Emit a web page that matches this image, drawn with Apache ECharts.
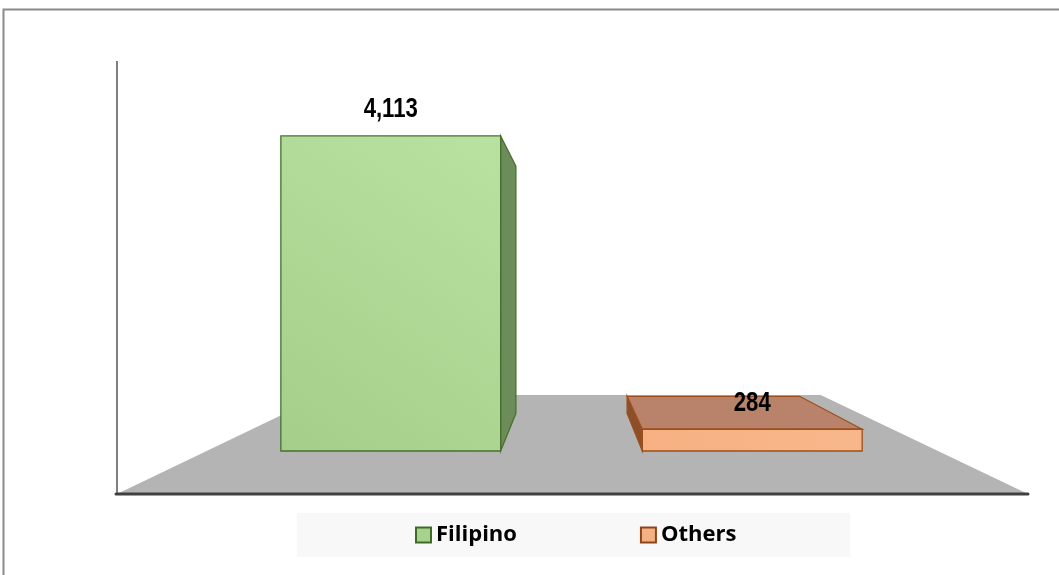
<!DOCTYPE html>
<html><head><meta charset="utf-8">
<script src="https://cdn.jsdelivr.net/npm/echarts@6/dist/echarts.min.js"></script>
<style>html,body{margin:0;padding:0;background:#fff}#c{width:1059px;height:575px}</style>
</head><body><div id="c"></div>
<script>
// ---- data ----
const categories = ['Filipino', 'Others'];
const values = [4113, 284];
const valueLabels = ['4,113', '284'];

// ---- styles ----
const palettes = [
  { front: ['#a5ce8a', '#b9e2a1'], side: '#6c8c5a', top: '#b7d99f', border: '#47702f', legend: '#a9d18e', legendBorder: '#3f6b27' },
  { front: ['#f6b082', '#f8b78b'], side: '#8c4f2a', top: '#b8836a', border: '#9c4f1a', legend: '#f4b183', legendBorder: '#8f4518' }
];
const DEPTH_K = 0.785;   // perspective shrink of bar back faces
const FLOOR_K = 0.546;   // perspective shrink of floor back edge

function vpOf(params, baseY) {
  const cs = params.coordSys;
  return [cs.x + cs.width / 2, baseY - 175];
}

function makeBarRender(idx) {
  const pal = palettes[idx];
  return function (params, api) {
    const base = api.coord([api.value(0), 0]);
    const topPt = api.coord([api.value(0), api.value(1)]);
    const band = api.size([1, 0])[0];
    const w = band * 0.608;
    const x0 = base[0] - w / 2, x1 = base[0] + w / 2;
    const y0 = topPt[1], y1 = base[1];
    const vp = vpOf(params, y1);
    const bk = p => [vp[0] + (p[0] - vp[0]) * DEPTH_K, vp[1] + (p[1] - vp[1]) * DEPTH_K];
    const fTL = [x0, y0], fTR = [x1, y0], fBL = [x0, y1], fBR = [x1, y1];
    const bTL = bk(fTL), bTR = bk(fTR), bBL = bk(fBL), bBR = bk(fBR);
    const children = [];
    const face = (pts, fill) => ({
      type: 'polygon', shape: { points: pts },
      style: { fill: fill, stroke: pal.border, lineWidth: 1.3 }
    });
    if (x1 < vp[0]) children.push(face([fTR, bTR, bBR, fBR], pal.side));
    if (x0 > vp[0]) children.push(face([fTL, bTL, bBL, fBL], pal.side));
    if (y0 > vp[1]) children.push(face([fTL, fTR, bTR, bTL], pal.top));
    children.push({
      type: 'rect', shape: { x: x0, y: y0, width: w, height: y1 - y0 },
      style: {
        fill: new echarts.graphic.LinearGradient(0, 1, 1, 0, [
          { offset: 0, color: pal.front[0] }, { offset: 1, color: pal.front[1] }
        ]),
        stroke: pal.border, lineWidth: 1.3
      }
    });
    children.push({
      type: 'text', x: base[0], y: y0 - 26, scaleX: 0.82,
      style: {
        text: valueLabels[idx], align: 'center', verticalAlign: 'middle',
        font: 'bold 27px "Liberation Sans", Arial, sans-serif',
        fill: '#000'
      }
    });
    return { type: 'group', children: children };
  };
}

function floorRender(params, api) {
  const cs = params.coordSys;
  const base = api.coord([0, 0]);
  const baseY = base[1];
  const vp = vpOf(params, baseY);
  const frontY = baseY + 43;
  const fl = [cs.x - 93, frontY], fr = [cs.x + cs.width + 95, frontY];
  const bk = p => [vp[0] + (p[0] - vp[0]) * FLOOR_K, vp[1] + (p[1] - vp[1]) * FLOOR_K];
  return {
    type: 'group',
    children: [
      { type: 'polygon', shape: { points: [fl, fr, bk(fr), bk(fl)] }, style: { fill: '#b4b4b4' } },
      { type: 'line', shape: { x1: fl[0], y1: cs.y - 7, x2: fl[0], y2: frontY }, style: { stroke: '#808080', lineWidth: 2 } },
      { type: 'line', shape: { x1: fl[0] - 1, y1: frontY, x2: fr[0], y2: frontY }, style: { stroke: '#404040', lineWidth: 3, lineCap: 'round' } }
    ]
  };
}

const chart = echarts.init(document.getElementById('c'));
chart.setOption({
  animation: false,
  backgroundColor: '#ffffff',
  graphic: [{
    type: 'rect', shape: { x: 3.5, y: 9.5, width: 1200, height: 700 },
    style: { fill: 'none', stroke: '#8a8a8a', lineWidth: 2 }, z: 0, silent: true
  }],
  grid: { left: 210, right: 126, top: 68, bottom: 124 },
  xAxis: { type: 'category', data: categories, show: false },
  yAxis: { type: 'value', min: 0, max: 5000, show: false },
  legend: {
    left: 297, top: 513,
    padding: [11, 114, 11, 118],
    backgroundColor: '#f8f8f8',
    icon: 'rect', itemWidth: 15, itemHeight: 15, itemGap: 123,
    textStyle: { fontFamily: '"Open Sans", sans-serif', fontWeight: 'bold', fontSize: 22, color: '#000' },
    data: categories.map((c, i) => ({
      name: c,
      itemStyle: { color: palettes[i].legend, borderColor: palettes[i].legendBorder, borderWidth: 2 }
    }))
  },
  series: [
    { type: 'custom', name: '__floor', silent: true, z: 1, renderItem: floorRender, data: [[0, 0]] },
    ...categories.map((c, i) => ({
      type: 'custom', name: c, z: 2,
      itemStyle: { color: palettes[i].legend, borderColor: palettes[i].legendBorder },
      renderItem: makeBarRender(i),
      data: [[i, values[i]]]
    }))
  ]
});
</script>
</body></html>
